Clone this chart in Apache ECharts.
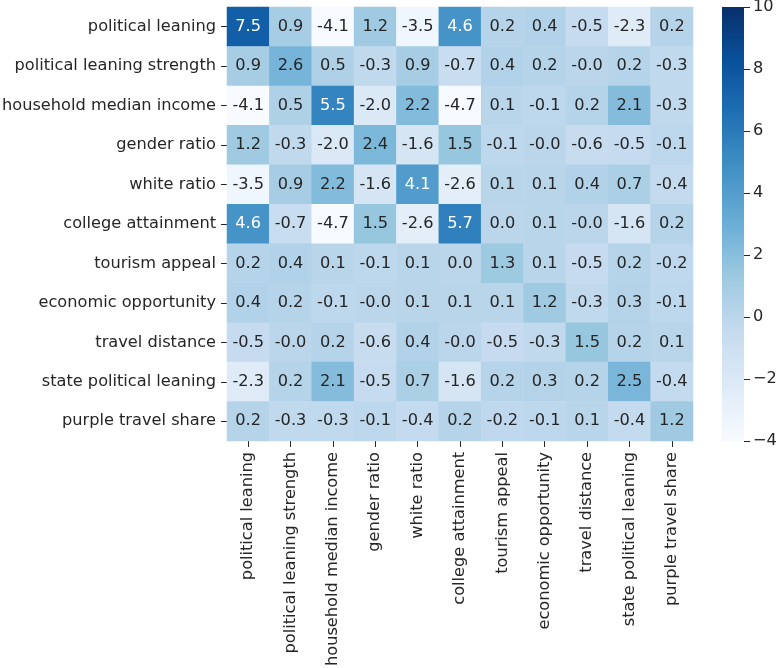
<!DOCTYPE html>
<html>
<head>
<meta charset="utf-8">
<script src="https://cdn.jsdelivr.net/npm/echarts@6/dist/echarts.min.js"></script>
<style>
  html, body { margin: 0; padding: 0; background: #fff; }
  #chart { width: 780px; height: 668px; }
</style>
</head>
<body>
<div id="chart"></div>
<script>
const features = [
  'political leaning', 'political leaning strength', 'household median income',
  'gender ratio', 'white ratio', 'college attainment', 'tourism appeal',
  'economic opportunity', 'travel distance', 'state political leaning',
  'purple travel share'
];

// rows top to bottom; -0.02 stands for cells shown as "-0.0"
const matrix = [
  [7.5, 0.9, -4.1, 1.2, -3.5, 4.6, 0.2, 0.4, -0.5, -2.3, 0.2],
  [0.9, 2.6, 0.5, -0.3, 0.9, -0.7, 0.4, 0.2, -0.02, 0.2, -0.3],
  [-4.1, 0.5, 5.5, -2.0, 2.2, -4.7, 0.1, -0.1, 0.2, 2.1, -0.3],
  [1.2, -0.3, -2.0, 2.4, -1.6, 1.5, -0.1, -0.02, -0.6, -0.5, -0.1],
  [-3.5, 0.9, 2.2, -1.6, 4.1, -2.6, 0.1, 0.1, 0.4, 0.7, -0.4],
  [4.6, -0.7, -4.7, 1.5, -2.6, 5.7, 0.0, 0.1, -0.02, -1.6, 0.2],
  [0.2, 0.4, 0.1, -0.1, 0.1, 0.0, 1.3, 0.1, -0.5, 0.2, -0.2],
  [0.4, 0.2, -0.1, -0.02, 0.1, 0.1, 0.1, 1.2, -0.3, 0.3, -0.1],
  [-0.5, -0.02, 0.2, -0.6, 0.4, -0.02, -0.5, -0.3, 1.5, 0.2, 0.1],
  [-2.3, 0.2, 2.1, -0.5, 0.7, -1.6, 0.2, 0.3, 0.2, 2.5, -0.4],
  [0.2, -0.3, -0.3, -0.1, -0.4, 0.2, -0.2, -0.1, 0.1, -0.4, 1.2]
];

const colorMin = -4;
const colorMax = 10;
const blues = ['#f7fbff', '#deebf7', '#c6dbef', '#9ecae1', '#6baed6',
               '#4292c6', '#2171b5', '#08519c', '#08306b'];

const font = 'DejaVu Sans';
const ink = '#262626';
const fs = 16.2;

const barLeft = 722;
const barWidth = 22;

const cells = [];
matrix.forEach((row, r) => {
  row.forEach((v, c) => {
    cells.push({
      value: [c, r, v],
      label: { color: v > 3.5 ? '#ffffff' : ink }
    });
  });
});

const chart = echarts.init(document.getElementById('chart'));
chart.setOption({
  animation: false,
  backgroundColor: '#ffffff',
  textStyle: { fontFamily: font },
  grid: [
    { left: 227, top: 7, width: 466, height: 434, outerBoundsMode: 'none', containLabel: false },
    { left: barLeft, top: 7, width: barWidth, height: 434, outerBoundsMode: 'none', containLabel: false }
  ],
  xAxis: [
    {
      type: 'category',
      gridIndex: 0,
      data: features,
      axisLine: { show: false },
      axisTick: { show: true, alignWithLabel: true, length: 6, lineStyle: { color: ink } },
      axisLabel: { rotate: 90, color: ink, fontSize: fs, fontFamily: font, margin: 11, interval: 0 },
      splitLine: { show: false }
    },
    {
      type: 'value',
      gridIndex: 1,
      min: 0,
      max: 1,
      show: false,
      axisLine: { show: false, onZero: false },
      axisTick: { show: false },
      axisLabel: { show: false },
      splitLine: { show: false }
    }
  ],
  yAxis: [
    {
      type: 'category',
      gridIndex: 0,
      inverse: true,
      data: features,
      axisLine: { show: false },
      axisTick: { show: true, alignWithLabel: true, length: 6, lineStyle: { color: ink } },
      axisLabel: { color: ink, fontSize: fs, fontFamily: font, margin: 11, interval: 0 },
      splitLine: { show: false }
    },
    {
      type: 'value',
      gridIndex: 1,
      position: 'right',
      min: colorMin,
      max: colorMax,
      interval: 2,
      axisLine: { show: false, onZero: false },
      axisTick: { show: true, length: 6, lineStyle: { color: ink } },
      minorTick: { show: false },
      axisLabel: {
        color: ink, fontSize: fs, fontFamily: font, margin: 9,
        formatter: v => (v < 0 ? '\u2212' + (-v) : String(v))
      },
      splitLine: { show: false }
    }
  ],
  visualMap: {
    type: 'continuous',
    show: false,
    min: colorMin,
    max: colorMax,
    seriesIndex: 0,
    dimension: 2,
    inRange: { color: blues }
  },
  series: [
    {
      type: 'heatmap',
      xAxisIndex: 0,
      yAxisIndex: 0,
      data: cells,
      itemStyle: { borderWidth: 0 },
      emphasis: { disabled: true },
      label: {
        show: true,
        fontSize: fs,
        fontFamily: font,
        formatter: p => p.value[2].toFixed(1)
      }
    }
  ]
});

// colorbar: gradient placed on the colour axis (yAxis 1)
const yTop = chart.convertToPixel({ yAxisIndex: 1 }, colorMax);
const yBottom = chart.convertToPixel({ yAxisIndex: 1 }, colorMin);
chart.setOption({
  graphic: [{
    type: 'rect',
    z: 1,
    silent: true,
    shape: { x: barLeft, y: yTop, width: barWidth, height: yBottom - yTop },
    style: {
      fill: new echarts.graphic.LinearGradient(0, 1, 0, 0,
        blues.map((c, i) => ({ offset: i / (blues.length - 1), color: c })))
    }
  }]
});
</script>
</body>
</html>
